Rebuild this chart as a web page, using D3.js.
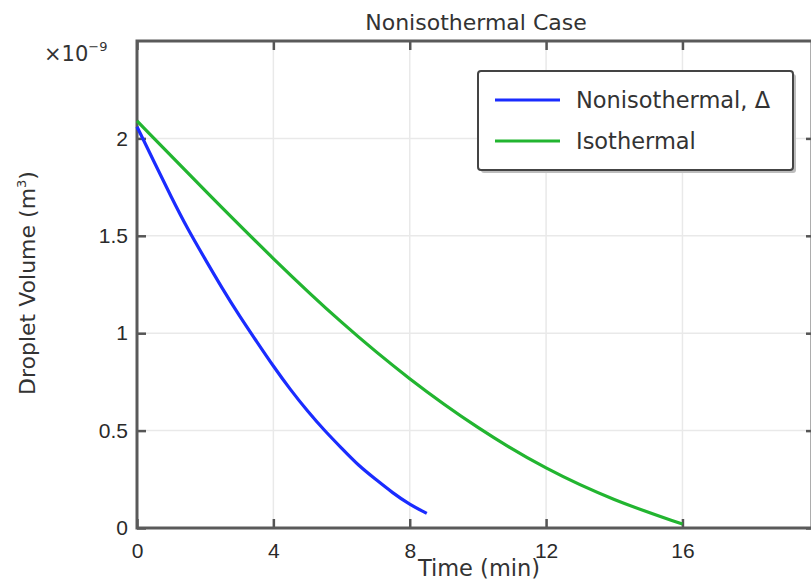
<!DOCTYPE html>
<html>
<head>
<meta charset="utf-8">
<script src="https://cdn.jsdelivr.net/npm/d3@7"></script>
<style>
  body { margin: 0; background: #fff; }
  svg { display: block; font-family: "DejaVu Sans", sans-serif; }
</style>
</head>
<body>
<svg id="chart" width="811" height="582"></svg>
<script>
// data (volume in 1e-9 m^3, time in min)
const nonisoTime = [0, 0.5, 1, 1.5, 2, 2.5, 3, 3.5, 4, 4.5, 5, 5.5, 6, 6.5, 7, 7.5, 8, 8.5];
const nonisoVolume = [2.06, 1.88, 1.70, 1.53, 1.38, 1.23, 1.09, 0.96, 0.83, 0.71, 0.60, 0.50, 0.41, 0.32, 0.25, 0.18, 0.12, 0.075];
const isoTime = [0, 2, 4, 6, 8, 10, 12, 14, 16];
const isoVolume = [2.09, 1.73, 1.38, 1.05, 0.76, 0.51, 0.30, 0.14, 0.02];
const xTicks = [0, 4, 8, 12, 16];
const yTicks = [0, 0.5, 1, 1.5, 2];
const seriesNames = ["Nonisothermal, \u0394", "Isothermal"];
const seriesColors = ["#1a2cff", "#22b530"];

const width = 811, height = 582;
const plot = { left: 137, top: 41, right: 812, bottom: 528 };

const svg = d3.select("#chart");

const x = d3.scaleLinear().domain([0, 19.8]).range([plot.left, plot.right]);
const y = d3.scaleLinear().domain([0, 2.5]).range([plot.bottom, plot.top]);

//* grid
const grid = svg.append("g");
grid.selectAll(".vgrid").data(xTicks.slice(1))
  .join("line")
  .attr("x1", d => x(d)).attr("x2", d => x(d))
  .attr("y1", plot.top).attr("y2", plot.bottom)
  .attr("stroke", "#e9e9e9").attr("stroke-width", 1.5);
grid.selectAll(".hgrid").data(yTicks.slice(1))
  .join("line")
  .attr("x1", plot.left).attr("x2", plot.right)
  .attr("y1", d => y(d)).attr("y2", d => y(d))
  .attr("stroke", "#e9e9e9").attr("stroke-width", 1.5);

//* axes, ticks pointing inward on all four sides
function styleAxis(g) {
  g.select(".domain").remove();
  g.selectAll(".tick line").attr("stroke", "#555").attr("stroke-width", 2.5);
  g.selectAll(".tick text").attr("fill", "#2a2a2a").attr("font-size", 21);
}

svg.append("g")
  .attr("transform", `translate(0,${plot.bottom})`)
  .call(d3.axisBottom(x).tickValues(xTicks).tickSizeInner(-9).tickSizeOuter(0).tickPadding(15))
  .call(styleAxis);

svg.append("g")
  .attr("transform", `translate(0,${plot.top})`)
  .call(d3.axisTop(x).tickValues(xTicks).tickSizeInner(-9).tickSizeOuter(0).tickFormat(""))
  .call(styleAxis);

svg.append("g")
  .attr("transform", `translate(${plot.left},0)`)
  .call(d3.axisLeft(y).tickValues(yTicks).tickSizeInner(-9).tickSizeOuter(0).tickPadding(9).tickFormat(d3.format("")))
  .call(styleAxis);

svg.append("g")
  .attr("transform", `translate(${plot.right},0)`)
  .call(d3.axisRight(y).tickValues(yTicks).tickSizeInner(-6).tickSizeOuter(0).tickFormat(""))
  .call(styleAxis);

//* frame
svg.append("rect")
  .attr("x", plot.left).attr("y", plot.top)
  .attr("width", plot.right - plot.left).attr("height", plot.bottom - plot.top)
  .attr("fill", "none").attr("stroke", "#5a5a5a").attr("stroke-width", 3);

//* lines
const line = d3.line().x(d => x(d[0])).y(d => y(d[1])).curve(d3.curveBasis);
const series = [
  d3.zip(nonisoTime, nonisoVolume),
  d3.zip(isoTime, isoVolume)
];
svg.selectAll(".series").data(series)
  .join("path")
  .attr("class", "series")
  .attr("d", line)
  .attr("fill", "none")
  .attr("stroke", (d, i) => seriesColors[i])
  .attr("stroke-width", 3.2);

//* titles
svg.append("text")
  .attr("x", 476).attr("y", 30)
  .attr("text-anchor", "middle")
  .attr("font-size", 22).attr("fill", "#333")
  .text("Nonisothermal Case");

svg.append("text")
  .attr("x", 479).attr("y", 576)
  .attr("text-anchor", "middle")
  .attr("font-size", 22.5).attr("fill", "#333")
  .text("Time (min)");

const yLab = svg.append("text")
  .attr("transform", "translate(35,283) rotate(-90)")
  .attr("text-anchor", "middle")
  .attr("font-size", 22).attr("fill", "#333");
yLab.append("tspan").text("Droplet Volume (m");
yLab.append("tspan").attr("font-size", 13).attr("dy", -9).text("3");
yLab.append("tspan").attr("dy", 9).text(")");

const expo = svg.append("text")
  .attr("x", 44).attr("y", 61)
  .attr("font-size", 21).attr("fill", "#333");
expo.append("tspan").text("\u00d710");
expo.append("tspan").attr("font-size", 13).attr("dy", -10).text("\u22129");

//* legend
const legend = svg.append("g").attr("transform", "translate(478,71)");
legend.append("rect")
  .attr("x", 3).attr("y", 3).attr("width", 315).attr("height", 99)
  .attr("rx", 3).attr("fill", "#bdbdbd");
legend.append("rect")
  .attr("width", 315).attr("height", 99).attr("rx", 3)
  .attr("fill", "#fff").attr("stroke", "#444").attr("stroke-width", 2);
const items = legend.selectAll(".item").data(seriesNames)
  .join("g")
  .attr("transform", (d, i) => `translate(0,${29 + i * 41})`);
items.append("line")
  .attr("x1", 17).attr("x2", 82)
  .attr("stroke", (d, i) => seriesColors[i])
  .attr("stroke-width", 3.2);
items.append("text")
  .attr("x", 98).attr("dy", "0.35em")
  .attr("font-size", 22.5).attr("fill", "#333")
  .text(d => d);
</script>
</body>
</html>
